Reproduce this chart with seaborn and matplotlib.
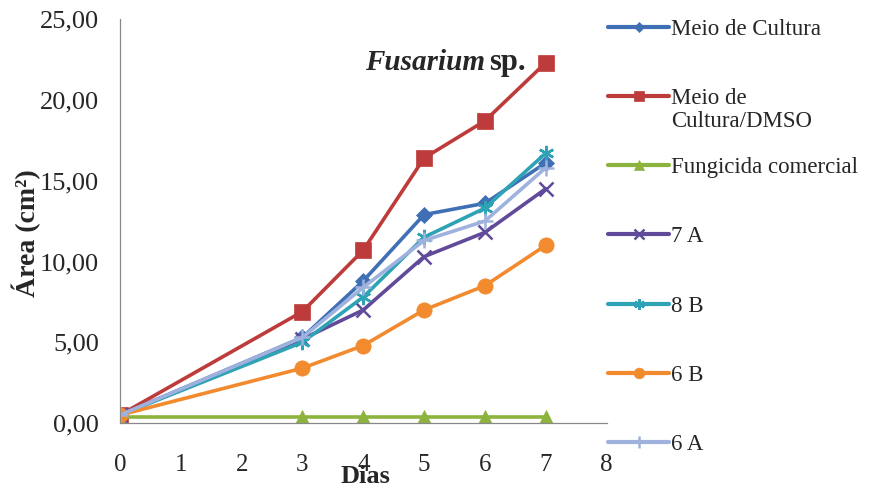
import matplotlib
matplotlib.use("Agg")
import matplotlib.pyplot as plt
import seaborn as sns
import pandas as pd

# ---- data ----
dias = [0, 3, 4, 5, 6, 7]
meio_cultura = [0.5, 5.3, 8.8, 12.9, 13.6, 16.1]
meio_dmso = [0.5, 6.9, 10.7, 16.4, 18.7, 22.3]
fungicida = [0.4, 0.4, 0.4, 0.4, 0.4, 0.4]
s7a = [0.5, 5.2, 7.0, 10.3, 11.8, 14.5]
s8b = [0.5, 5.0, 7.8, 11.5, 13.3, 16.7]
s6b = [0.5, 3.4, 4.8, 7.0, 8.5, 11.0]
s6a = [0.5, 5.3, 8.4, 11.3, 12.5, 15.8]

labels = ["Meio de Cultura", "Meio de\nCultura/DMSO", "Fungicida comercial",
          "7 A", "8 B", "6 B", "6 A"]
series = [meio_cultura, meio_dmso, fungicida, s7a, s8b, s6b, s6a]
colors = ["#3F6FB5", "#BE3B3B", "#8DB33F", "#614A9A", "#2FA3B6", "#F28A2E", "#9FB2DE"]
markers = ["D", "s", "^", "x", (6, 2, 0), "o", "+"]
msizes = [8, 11, 10, 10, 11, 11, 12]

x_ticks = [0, 1, 2, 3, 4, 5, 6, 7, 8]
y_ticks = [0, 5, 10, 15, 20, 25]

rows = []
for lab, vals in zip(labels, series):
    for d, v in zip(dias, vals):
        rows.append({"Dias": d, "Area": v, "Serie": lab})
df = pd.DataFrame(rows)

sns.set_style("white")
plt.rcParams["font.family"] = ["Liberation Serif", "DejaVu Serif"]

fig = plt.figure(figsize=(8.72, 4.88), dpi=100)
ax = fig.add_axes([0.1376, 0.133, 0.558, 0.828])

handles = []
for lab, c, m, ms in zip(labels, colors, markers, msizes):
    sub = df[df["Serie"] == lab]
    sns.lineplot(data=sub, x="Dias", y="Area", ax=ax, color=c, marker=m,
                 markersize=ms, linewidth=2.6,
                 markeredgecolor=c, markeredgewidth=1.8 if m in ("x", "+", (6, 2, 0)) else 0.5)
    handles.append(ax.lines[-1])

ax.set_xlim(0, 8)
ax.set_ylim(0, 25)
ax.set_xticks(x_ticks)
ax.set_yticks(y_ticks)
ax.set_xticklabels([str(t) for t in x_ticks], fontsize=18)
ax.set_yticklabels([f"{t:.2f}".replace(".", ",") for t in y_ticks], fontsize=19)
ax.tick_params(axis="x", direction="inout", length=10, width=0.8, color="#888888", pad=17)
ax.tick_params(axis="y", direction="out", length=5, width=0.8, color="#888888", pad=10)

for s in ["top", "right"]:
    ax.spines[s].set_visible(False)
for s in ["left", "bottom"]:
    ax.spines[s].set_color("#888888")
    ax.spines[s].set_linewidth(0.9)

ax.set_xlabel("")
ax.set_ylabel("")
fig.text(0.030, 0.523, "Área (cm²)", rotation=90, ha="center", va="center",
         fontsize=20, fontweight="bold")
fig.text(0.419, 0.0, "Dias", ha="center", va="bottom", fontsize=19, fontweight="bold")

ax.text(6.0, 21.85, "Fusarium", ha="right", va="baseline", fontsize=21,
        fontweight="bold", fontstyle="italic")
ax.text(6.07, 21.85, "sp.", ha="left", va="baseline", fontsize=22, fontweight="bold")

# legend: handle aligned with first line of each label (second line added below)
first_lines = [l.split("\n")[0] for l in labels]
leg = ax.legend(handles, first_lines, loc="upper left", bbox_to_anchor=(0.687, 0.98),
                bbox_transform=fig.transFigure, frameon=False, fontsize=16.5,
                handlelength=2.65, handletextpad=0.1, labelspacing=2.1,
                borderaxespad=0, markerscale=0.7)
for h in leg.legend_handles:
    h.set_linewidth(3)

fig.canvas.draw()
for txt, full in zip(leg.get_texts(), labels):
    parts = full.split("\n")
    if len(parts) > 1:
        bb = txt.get_window_extent().transformed(fig.transFigure.inverted())
        for k, p in enumerate(parts[1:], start=1):
            fig.text(bb.x0, bb.y0 - 0.052 * k + 0.006, p, ha="left", va="bottom",
                     fontsize=16.5)

fig.savefig("out.png", dpi=100)
